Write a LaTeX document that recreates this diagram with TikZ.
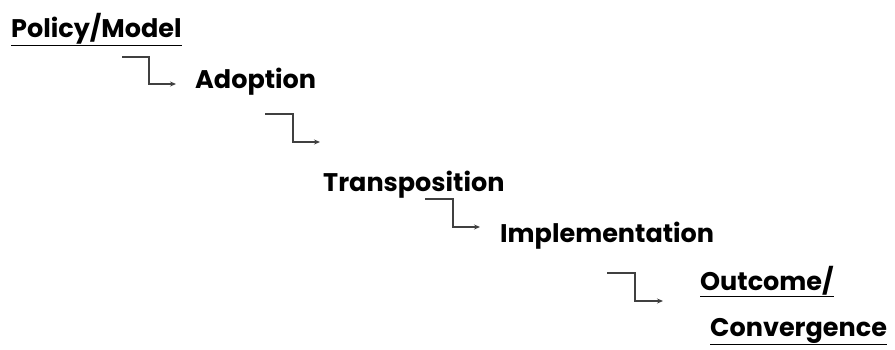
\documentclass[tikz,border=0pt]{standalone}
\usepackage{fontspec}
\setmainfont{Poppins}
\usetikzlibrary{arrows.meta}

\begin{document}
\begin{tikzpicture}[
    x=1pt, y=-1pt,
    stage/.style={anchor=base west, inner sep=0pt, font=\bfseries\fontsize{25.5}{30}\selectfont},
    stair/.style={draw=black!75, line width=1.2pt, -{Stealth[length=6pt, width=5pt]}}
]
\useasboundingbox (0,0) rectangle (895,349);
\node[stage] (policy) at (11,37) {\underline{Policy/Model}};
\node[stage] (adoption) at (195,88) {Adoption};
\node[stage] (transposition) at (323,191) {Transposition};
\node[stage] (implementation) at (500,242) {Implementation};
\node[stage] (outcome) at (700,290) {\underline{Outcome/}};
\node[stage] (convergence) at (710,336) {\underline{Convergence}};
% stair steps between the stages
\coordinate (s1) at (122,57);  \coordinate (e1) at (176,84);
\coordinate (s2) at (265,114); \coordinate (e2) at (320,142);
\coordinate (s3) at (425,199); \coordinate (e3) at (480,227);
\coordinate (s4) at (607,273); \coordinate (e4) at (663,301);
\draw[stair] (s1) -- ++(27,0) |- (e1);
\draw[stair] (s2) -- ++(28,0) |- (e2);
\draw[stair] (s3) -- ++(28,0) |- (e3);
\draw[stair] (s4) -- ++(28,0) |- (e4);
\end{tikzpicture}
\end{document}
